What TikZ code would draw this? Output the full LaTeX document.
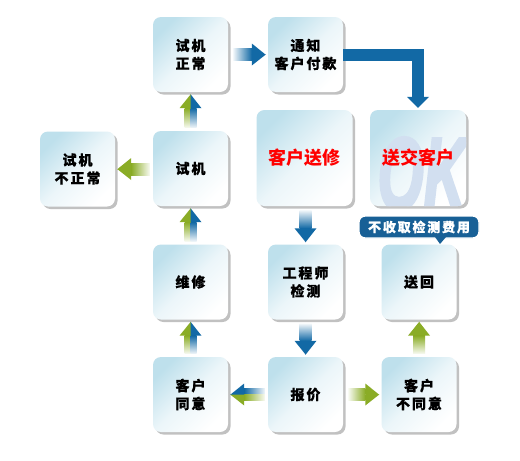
\documentclass[tikz,border=0pt]{standalone}
\usepackage{fontspec}
\setmainfont{Noto Sans CJK SC}
\newfontfamily\bfont{Noto Sans CJK SC}[LetterSpace=14, FakeBold=0.6]
\newfontfamily\rfont{Noto Sans CJK SC}
\newfontfamily\okfont{Liberation Sans}[FakeBold=3.5]
\usetikzlibrary{shadows,calc}
\definecolor{cblue}{RGB}{18,105,165}
\definecolor{cgreen}{RGB}{138,172,38}
\definecolor{boxb}{RGB}{190,224,236}
\definecolor{callc}{RGB}{24,96,150}
\definecolor{okc}{RGB}{210,223,240}
\tikzset{
  box/.style={rounded corners=8pt, minimum width=75pt, minimum height=75pt, inner sep=0pt,
    top color=boxb, bottom color=white, middle color=boxb!30!white, shading angle=45,
    drop shadow={shadow xshift=2.5pt, shadow yshift=-2.5pt, fill=black!60, opacity=.4},
    font=\bfont\bfseries\fontsize{14}{18}\selectfont, align=center},
  bigbox/.style={box, minimum width=96pt, minimum height=96pt,
    font=\rfont\bfseries\fontsize{18}{20}\selectfont, text=red},
  callout/.style={rounded corners=6pt, fill=callc, draw=white, line width=1.4pt, text=white,
    minimum width=120pt, minimum height=22pt, inner sep=1pt,
    font=\bfont\bfseries\fontsize{13}{14}\selectfont}
}
% fat arrows: #1 start, #2 tip, #3 first half colour, #4 second half colour
\newcommand\arrUp[4]{%
  \path let \p1=#1, \p2=#2 in coordinate (A) at (\x2,\y1) coordinate (B) at (\x2,\y2-14pt) coordinate (T) at (\x2,\y2);
  \shade[top color=#3, bottom color=#3!6] ([xshift=-6pt]A) rectangle ([xshift=0.3pt]B);
  \shade[top color=#4, bottom color=#4!6] (A) rectangle ([xshift=6pt]B);
  \fill[#3] ([xshift=-11pt]B) -- ([xshift=0.3pt]B) -- ([xshift=0.3pt]T) -- cycle;
  \fill[#4] (B) -- ([xshift=11pt]B) -- (T) -- cycle;}
\newcommand\arrDown[4]{%
  \path let \p1=#1, \p2=#2 in coordinate (A) at (\x2,\y1) coordinate (B) at (\x2,\y2+14pt) coordinate (T) at (\x2,\y2);
  \shade[top color=#3!6, bottom color=#3] ([xshift=-6pt]A) rectangle ([xshift=0.3pt]B);
  \shade[top color=#4!6, bottom color=#4] (A) rectangle ([xshift=6pt]B);
  \fill[#3] ([xshift=-11pt]B) -- ([xshift=0.3pt]B) -- ([xshift=0.3pt]T) -- cycle;
  \fill[#4] (B) -- ([xshift=11pt]B) -- (T) -- cycle;}
\newcommand\arrLeft[4]{%
  \path let \p1=#1, \p2=#2 in coordinate (A) at (\x1,\y2) coordinate (B) at (\x2+14pt,\y2) coordinate (T) at (\x2,\y2);
  \shade[top color=#3, bottom color=#3!6, shading angle=90] ([yshift=-0.3pt]B) rectangle ([yshift=6pt]A);
  \shade[top color=#4, bottom color=#4!6, shading angle=90] ([yshift=-6pt]B) rectangle (A);
  \fill[#3] ([yshift=11pt]B) -- ([yshift=-0.3pt]B) -- ([yshift=-0.3pt]T) -- cycle;
  \fill[#4] (B) -- ([yshift=-11pt]B) -- (T) -- cycle;}
\newcommand\arrRight[4]{%
  \path let \p1=#1, \p2=#2 in coordinate (A) at (\x1,\y2) coordinate (B) at (\x2-14pt,\y2) coordinate (T) at (\x2,\y2);
  \shade[top color=#3, bottom color=#3!6, shading angle=-90] ([yshift=-0.3pt]A) rectangle ([yshift=6pt]B);
  \shade[top color=#4, bottom color=#4!6, shading angle=-90] ([yshift=-6pt]A) rectangle (B);
  \fill[#3] ([yshift=11pt]B) -- ([yshift=-0.3pt]B) -- ([yshift=-0.3pt]T) -- cycle;
  \fill[#4] (B) -- ([yshift=-11pt]B) -- (T) -- cycle;}
\begin{document}
\begin{tikzpicture}[x=1pt,y=-1pt]
\useasboundingbox[fill=white] (0,0) rectangle (520,461);
% boxes
\node[box] (zc) at (190.5,54.5) {试机\\正常};
\node[box] (tz) at (305.5,54.5) {通知\\客户付款};
\node[bigbox] (sx) at (304.5,158) {客户送修};
\node[bigbox, path picture={\node[text=okc, inner sep=0pt, font=\okfont\bfseries\itshape\fontsize{80}{80}\selectfont]
   at ([xshift=4pt,yshift=-16pt]path picture bounding box.center) {\scalebox{0.74}[1.28]{OK}};}] (sj) at (418,158) {送交客户};
\node[box] (bz) at (77.5,169) {试机\\不正常};
\node[box] (sji) at (190.5,168.5) {试机};
\node[box] (wx) at (190.5,282) {维修};
\node[box] (gc) at (305.5,282) {工程师\\检测};
\node[box] (sh) at (419,282) {送回};
\node[box] (ty) at (190.5,394.5) {客户\\同意};
\node[box] (bj) at (305.5,394.5) {报价};
\node[box] (bty) at (419,394.5) {客户\\不同意};
% callout
\node[callout] (cb) at (419,227) {不收取检测费用};
\fill[callc] (435,237) -- (446,237) -- (440,244) -- cycle;
% arrows
\arrRight{([xshift=5pt]zc.east)}{([xshift=-2pt]tz.west)}{cblue}{cblue}
\draw[line width=12pt, cblue] (tz.east) -| ([yshift=13pt]sj.north);
\fill[cblue] ([xshift=-11pt,yshift=13pt]sj.north) -- ([xshift=11pt,yshift=13pt]sj.north) -- ([yshift=2pt]sj.north) -- cycle;
\arrUp{([yshift=3pt]sji.north)}{([yshift=-2pt]zc.south)}{cgreen}{cblue}
\arrUp{([yshift=3pt]wx.north)}{([yshift=-2pt]sji.south)}{cgreen}{cblue}
\arrUp{([yshift=3pt]ty.north)}{([yshift=-2pt]wx.south)}{cgreen}{cblue}
\arrLeft{([xshift=-3pt]sji.west)}{([xshift=2pt]bz.east)}{cgreen}{cgreen}
\arrDown{([yshift=-4pt]sx.south)}{([yshift=2pt]gc.north)}{cblue}{cblue}
\arrDown{([yshift=-4pt]gc.south)}{([yshift=2pt]bj.north)}{cblue}{cblue}
\arrLeft{([xshift=-3pt]bj.west)}{([xshift=2pt]ty.east)}{cblue}{cgreen}
\arrRight{([xshift=5pt]bj.east)}{([xshift=-2pt]bty.west)}{cgreen}{cgreen}
\arrUp{([yshift=3pt]bty.north)}{([yshift=-2pt]sh.south)}{cgreen}{cgreen}
\end{tikzpicture}
\end{document}
